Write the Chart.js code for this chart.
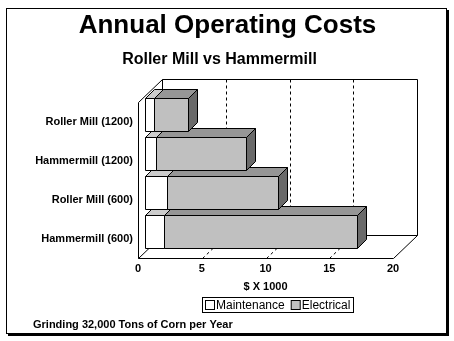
<!DOCTYPE html>
<html>
<head>
<meta charset="utf-8">
<script src="https://cdn.jsdelivr.net/npm/chart.js@4.4.0/dist/chart.umd.min.js"></script>
<style>
  html, body { margin: 0; padding: 0; background: #fff; }
</style>
</head>
<body>
<canvas id="costChart" width="454" height="341"></canvas>
<script>
const mills = ['Roller Mill (1200)', 'Hammermill (1200)', 'Roller Mill (600)', 'Hammermill (600)'];
const maintenance = [0.7, 0.9, 1.75, 1.5];
const electrical = [2.65, 7.05, 8.7, 15.1];
const xMin = 0, xMax = 20, xStep = 5;
const mainTitle = 'Annual Operating Costs';
const subTitle = 'Roller Mill vs Hammermill';
const footNote = 'Grinding 32,000 Tons of Corn per Year';

const FONT = "'Liberation Sans', Arial, sans-serif";
Chart.defaults.font.family = FONT;
Chart.defaults.color = '#000';

// 3d look, offsets in px from the front plane (= chart area)
const BAR_OFF = [7, -7];
const BAR_DEPTH = [9, -9];
const WALL = [24, -23];

const px = v => Math.round(v) + 0.5;

function face(ctx, pts, fill) {
  ctx.beginPath();
  pts.forEach((p, i) => i ? ctx.lineTo(px(p[0]), px(p[1])) : ctx.moveTo(px(p[0]), px(p[1])));
  ctx.closePath();
  ctx.fillStyle = fill;
  ctx.fill();
  ctx.stroke();
}

function seg(ctx, x1, y1, x2, y2) {
  ctx.beginPath();
  ctx.moveTo(px(x1), px(y1));
  ctx.lineTo(px(x2), px(y2));
  ctx.stroke();
}

const box3d = {
  id: 'box3d',
  beforeDraw(chart) {
    const ctx = chart.ctx;
    ctx.save();
    ctx.fillStyle = '#fff';
    ctx.fillRect(0, 0, chart.width, chart.height);
    ctx.strokeStyle = '#000';
    ctx.lineWidth = 1;
    ctx.strokeRect(6.5, 8.5, 440, 325);
    ctx.lineWidth = 2;
    ctx.beginPath();
    ctx.moveTo(8, 335); ctx.lineTo(448, 335); ctx.lineTo(448, 10);
    ctx.stroke();
    ctx.restore();
  },
  beforeDatasetsDraw(chart) {
    const {ctx, chartArea: a, scales: {x}} = chart;
    const x0 = x.getPixelForValue(xMin), x1 = x.getPixelForValue(xMax);
    const [wx, wy] = WALL;
    ctx.save();
    ctx.strokeStyle = '#000';
    ctx.lineWidth = 1;
    // back wall
    seg(ctx, x0 + wx, a.top + wy, x1 + wx, a.top + wy);
    seg(ctx, x1 + wx, a.top + wy, x1 + wx, a.bottom + wy);
    seg(ctx, x0 + wx, a.bottom + wy, x1 + wx, a.bottom + wy);
    seg(ctx, x0 + wx, a.top + wy, x0 + wx, a.bottom + wy);
    // left wall
    seg(ctx, x0, a.top, x0 + wx, a.top + wy);
    seg(ctx, x0, a.top, x0, a.bottom);
    // floor
    seg(ctx, x0, a.bottom, x1, a.bottom);
    seg(ctx, x0, a.bottom, x0 + wx, a.bottom + wy);
    seg(ctx, x1, a.bottom, x1 + wx, a.bottom + wy);
    // dashed grid
    ctx.setLineDash([3, 3]);
    for (let v = xMin + xStep; v < xMax; v += xStep) {
      const gx = x.getPixelForValue(v);
      seg(ctx, gx + wx, a.top + wy, gx + wx, a.bottom + wy);
      seg(ctx, gx, a.bottom, gx + wx, a.bottom + wy);
    }
    ctx.restore();
  },
  beforeDatasetDraw() {
    return false;
  },
  afterDatasetsDraw(chart) {
    const ctx = chart.ctx;
    const [dx, dy] = BAR_DEPTH;
    ctx.save();
    ctx.strokeStyle = '#000';
    ctx.lineWidth = 1;
    for (let j = mills.length - 1; j >= 0; j--) {
      chart.data.datasets.forEach((ds, i) => {
        const bar = chart.getDatasetMeta(i).data[j];
        const p = bar.getProps(['x', 'y', 'base', 'height'], true);
        const l = p.base + BAR_OFF[0], r = p.x + BAR_OFF[0];
        const t = p.y - p.height / 2 + BAR_OFF[1], b = p.y + p.height / 2 + BAR_OFF[1];
        face(ctx, [[l, t], [r, t], [r + dx, t + dy], [l + dx, t + dy]], ds.topColor);
        face(ctx, [[r, t], [r + dx, t + dy], [r + dx, b + dy], [r, b]], ds.sideColor);
        face(ctx, [[l, t], [r, t], [r, b], [l, b]], ds.backgroundColor);
      });
    }
    ctx.restore();
  },
  afterDraw(chart) {
    const {ctx, chartArea: a} = chart;
    ctx.save();
    ctx.fillStyle = '#000';
    ctx.textBaseline = 'middle';
    ctx.textAlign = 'center';
    // titles
    ctx.font = 'bold 26px ' + FONT;
    ctx.fillText(mainTitle, chart.width / 2 + 0.5, 26);
    ctx.font = 'bold 16px ' + FONT;
    ctx.fillText(subTitle, chart.width / 2 - 7.5, 60);

    // legend with a frame
    ctx.textAlign = 'left';
    ctx.font = '12px ' + FONT;
    const items = chart.data.datasets.map(ds => ({
      text: ds.label, fill: ds.backgroundColor, w: ctx.measureText(ds.label).width
    }));
    const boxW = 9, gap = 2, itemGap = 6, pad = 3;
    let total = pad * 2 + itemGap * (items.length - 1);
    items.forEach(it => total += boxW + gap + it.w);
    const cx = (a.left + a.right) / 2 + 12;
    const lx = Math.round(cx - total / 2), ly = Math.round(a.bottom + 39), lh = 15;
    ctx.strokeStyle = '#000';
    ctx.lineWidth = 1;
    ctx.strokeRect(lx + 0.5, ly + 0.5, Math.round(total), lh);
    let cur = lx + pad;
    items.forEach(it => {
      ctx.fillStyle = it.fill;
      ctx.fillRect(cur + 0.5, ly + 3.5, boxW, boxW);
      ctx.strokeRect(cur + 0.5, ly + 3.5, boxW, boxW);
      ctx.fillStyle = '#000';
      ctx.fillText(it.text, cur + boxW + gap, ly + lh / 2 + 1);
      cur += boxW + gap + it.w + itemGap;
    });
    // foot note
    ctx.font = 'bold 11px ' + FONT;
    ctx.fillText(footNote, 33, chart.height - 16);
    ctx.restore();
  }
};

new Chart(document.getElementById('costChart'), {
  type: 'bar',
  data: {
    labels: mills,
    datasets: [
      { label: 'Maintenance', data: maintenance, backgroundColor: '#ffffff', topColor: '#cccccc', sideColor: '#bbbbbb',
        borderColor: '#000', borderWidth: 1, barPercentage: 0.846, categoryPercentage: 1 },
      { label: 'Electrical', data: electrical, backgroundColor: '#c0c0c0', topColor: '#969696', sideColor: '#6a6a6a',
        borderColor: '#000', borderWidth: 1, barPercentage: 0.846, categoryPercentage: 1 }
    ]
  },
  options: {
    indexAxis: 'y',
    responsive: false,
    animation: false,
    events: [],
    layout: { padding: { top: 102, left: 10, right: 61, bottom: 46 } },
    plugins: {
      legend: { display: false },
      tooltip: { enabled: false },
      title: { display: false }
    },
    scales: {
      x: {
        stacked: true,
        min: xMin,
        max: xMax,
        grid: { display: false, drawTicks: false },
        border: { display: false },
        ticks: { stepSize: xStep, padding: 4, font: { size: 11, weight: 'bold' } },
        title: { display: true, text: '$ X 1000', font: { size: 11, weight: 'bold' }, padding: { top: 0, bottom: 1 } },
        afterFit(scale) { scale.height = 37; }
      },
      y: {
        stacked: true,
        grid: { display: false, drawTicks: false },
        border: { display: false },
        ticks: { padding: 5, font: { size: 11, weight: 'bold' } },
        afterFit(scale) { scale.width = 128; }
      }
    }
  },
  plugins: [box3d]
});
</script>
</body>
</html>
